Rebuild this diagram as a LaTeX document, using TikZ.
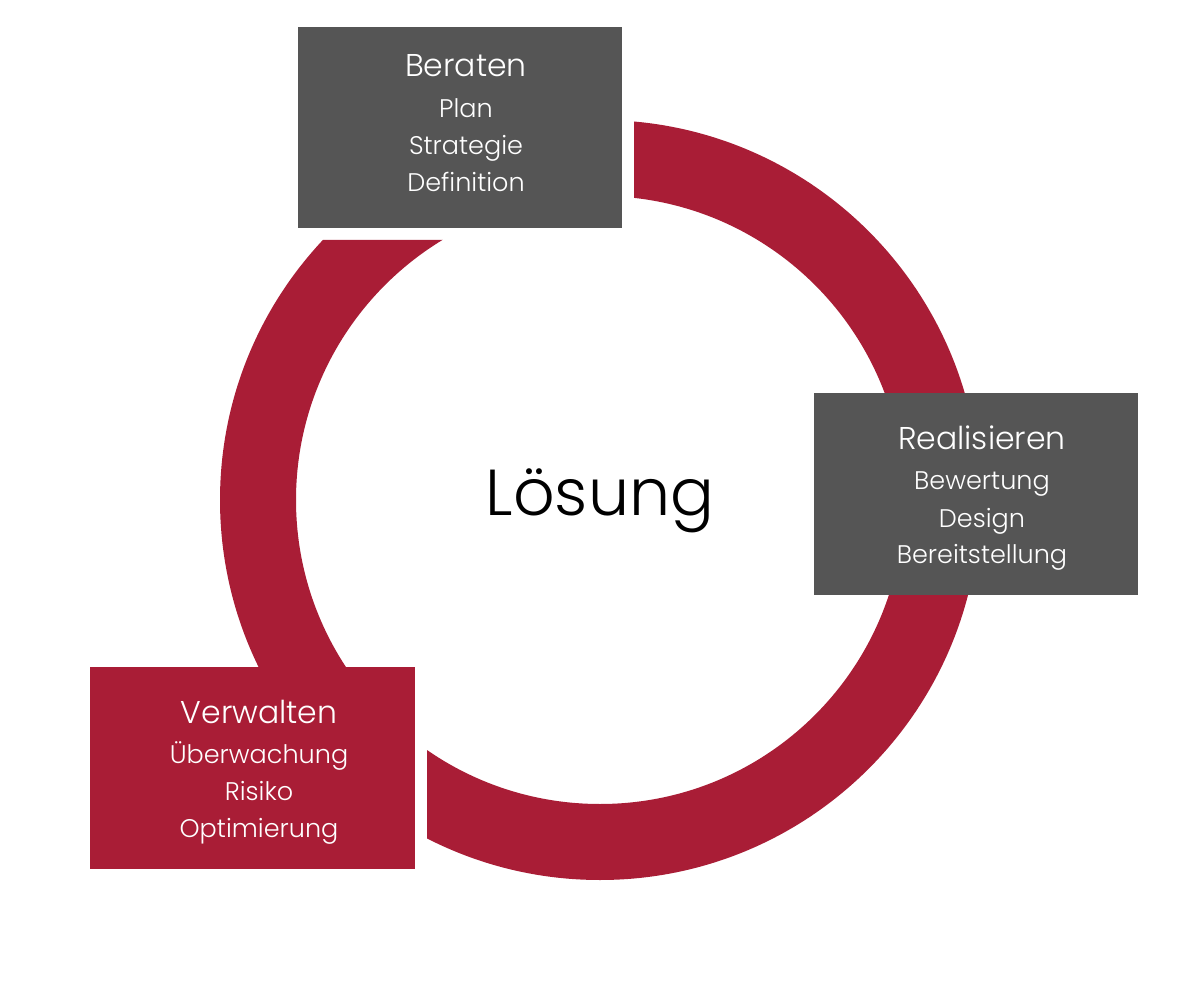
\documentclass[tikz,border=0pt]{standalone}
\usepackage{fontspec}
\setmainfont{Poppins}[UprightFont={* Light}]
\definecolor{ringred}{RGB}{169,29,54}
\definecolor{boxgray}{RGB}{85,85,85}
\tikzset{
  box/.style={rectangle, inner sep=0pt, anchor=north west},
  title/.style={anchor=base, text=white, font=\fontsize{31.5}{36}\selectfont, inner sep=0pt},
  item/.style={anchor=base, text=white, font=\fontsize{25.5}{30}\selectfont, inner sep=0pt}
}
\begin{document}
\begin{tikzpicture}[x=1pt,y=-1pt]
\useasboundingbox (0,0) rectangle (1200,1000);
\begin{scope}
  \clip (634,0) -- (1200,0) -- (1200,1000) -- (427,1000) -- (427,667) -- (0,667) -- (0,240) -- (634,240) -- cycle;
  \fill[ringred, even odd rule] (600,500) circle (380pt) (600,500) circle (304pt);
\end{scope}
\node[box, fill=boxgray, minimum width=324pt, minimum height=201pt] (berbox) at (298,27) {};
\node[box, fill=boxgray, minimum width=324pt, minimum height=202pt] (realbox) at (814,393) {};
\node[box, fill=ringred, minimum width=325pt, minimum height=202pt] (verbox) at (90,667) {};
\node[title] (bt) at (466,77) {Beraten};
\node[item] (b1) at (466,118) {Plan};
\node[item] (b2) at (466,155) {Strategie};
\node[item] (b3) at (466,192) {Definition};
\node[title] (rt) at (982,449) {Realisieren};
\node[item] (r1) at (982,489) {Bewertung};
\node[item] (r2) at (982,527) {Design};
\node[item] (r3) at (982,563) {Bereitstellung};
\node[title] (vt) at (259,723) {Verwalten};
\node[item] (v1) at (259,763) {Überwachung};
\node[item] (v2) at (259,800) {Risiko};
\node[item] (v3) at (259,837) {Optimierung};
\node[anchor=base, inner sep=0pt, font=\fontsize{65}{70}\selectfont] (center) at (600,515) {Lösung};
\end{tikzpicture}
\end{document}
